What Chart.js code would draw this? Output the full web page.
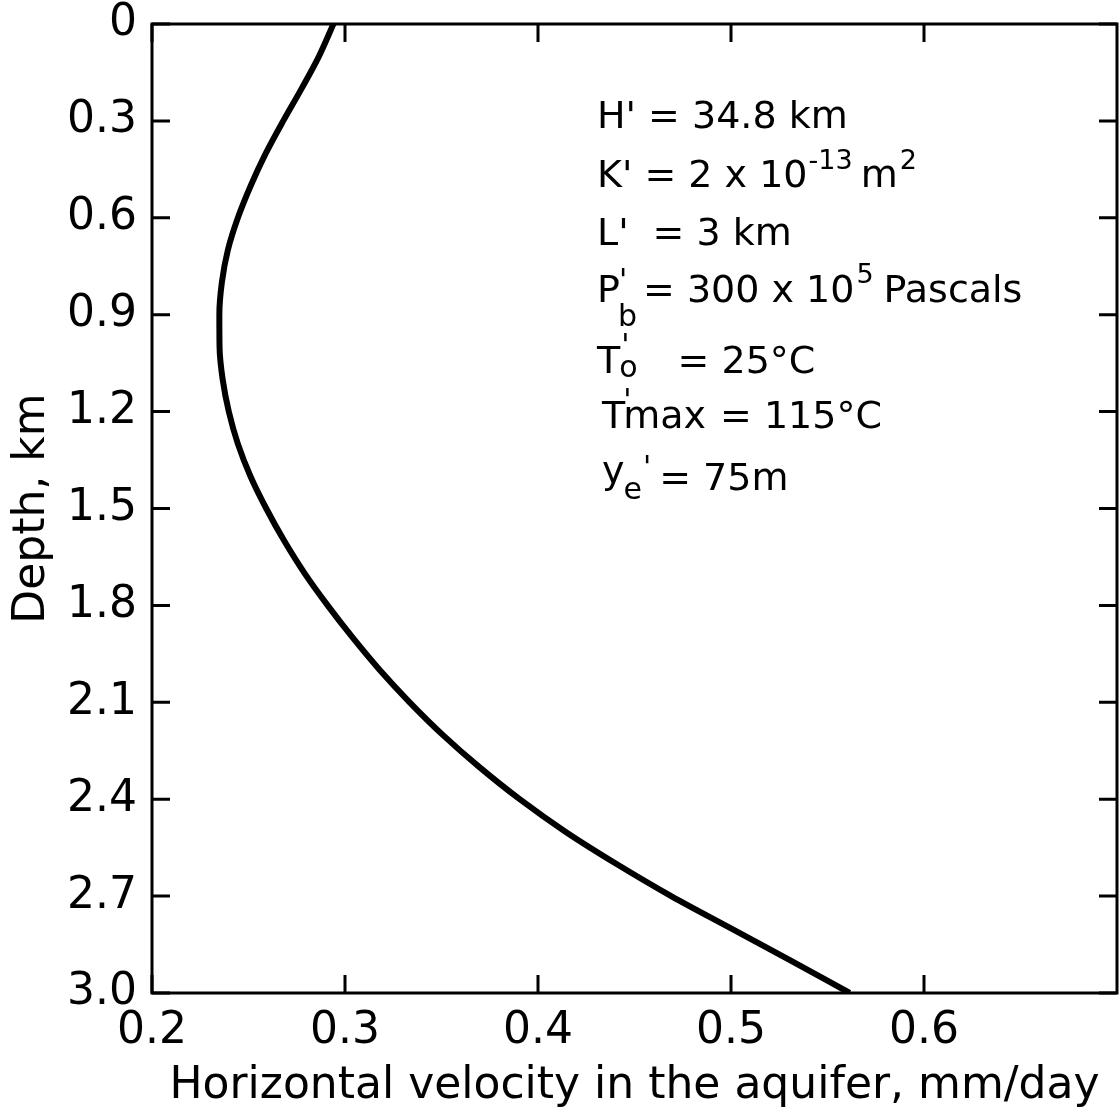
<!DOCTYPE html>
<html>
<head>
<meta charset="utf-8">
<script src="https://cdn.jsdelivr.net/npm/chart.js@4.4.1/dist/chart.umd.min.js"></script>
<style>
  html, body { margin: 0; padding: 0; background: #ffffff; }
  #wrap { width: 1120px; height: 1115px; position: relative; }
</style>
</head>
<body>
<div id="wrap"><canvas id="velocityChart"></canvas></div>
<script>
// depth below the top of the aquifer, km
const depthKm = [0, 0.1, 0.2, 0.3, 0.4, 0.5, 0.6, 0.7, 0.8, 0.9, 1.0,
    1.1, 1.2, 1.3, 1.4, 1.5, 1.6, 1.7, 1.8, 1.9, 2.0,
    2.1, 2.2, 2.3, 2.4, 2.5, 2.6, 2.7, 2.8, 2.9, 3.0];

// horizontal velocity, mm/day
const velocity = [0.294, 0.2865, 0.2775, 0.268, 0.259, 0.2512, 0.2445, 0.2393, 0.2362, 0.2349, 0.2350,
    0.2366, 0.2398, 0.2445, 0.2510, 0.2592, 0.2685, 0.2790, 0.2910, 0.3040, 0.3180,
    0.3335, 0.3505, 0.3695, 0.3905, 0.4140, 0.4405, 0.4690, 0.5000, 0.5310, 0.5615];

const xTicks = [0.2, 0.3, 0.4, 0.5, 0.6];
const yTicks = [0, 0.3, 0.6, 0.9, 1.2, 1.5, 1.8, 2.1, 2.4, 2.7, 3.0];

const FONT = "'DejaVu Sans', sans-serif";

const points = depthKm.map((d, i) => ({ x: velocity[i], y: d }));

// parameter block: each line = start x, baseline, segments
// segment = [text, size, dy, gapBefore, advance?]
const paramLines = [
    [597, 128, [["H' = 34.8 km", 38, 0, 0]]],
    [597, 187, [["K' = 2 x 10", 38, 0, 0], ["-13", 27, -18, 1], ["m", 38, 0, 8], ["2", 27, -18, 2]]],
    [597, 245, [["L'", 38, 0, 0], ["= 3 km", 38, 0, 24]]],
    [597, 302, [["P", 38, 0, 0], ["'", 30, -12, -1, false], ["b", 30, 24, -1], ["= 300 x 10", 38, 0, 6],
        ["5", 27, -19, 2], ["Pascals", 38, 0, 10]]],
    [597, 373, [["T", 38, 0, 0], ["'", 30, -18, 1, false], ["o", 30, 4, -2], ["= 25°C", 38, 0, 40]]],
    [602, 428, [["T", 38, 0, 0], ["'", 30, -18, -2, false], ["max", 38, 0, 0], ["= 115°C", 38, 0, 14]]],
    [602, 483, [["y", 38, 0, 0], ["e", 30, 16, -1], ["'", 30, -6, 1], ["= 75m", 38, 7, 8]]]
];

const frameAndTicks = {
    id: "frameAndTicks",
    afterDraw: (chart) => {
        const ctx = chart.ctx;
        const a = chart.chartArea;
        const xs = chart.scales.x;
        const ys = chart.scales.y;
        const len = 18;
        ctx.save();
        ctx.strokeStyle = "#000";
        ctx.lineWidth = 3;
        ctx.strokeRect(a.left, a.top, a.right - a.left, a.bottom - a.top);
        ctx.beginPath();
        xTicks.forEach(v => {
            const px = xs.getPixelForValue(v);
            ctx.moveTo(px, a.bottom); ctx.lineTo(px, a.bottom - len);
            ctx.moveTo(px, a.top); ctx.lineTo(px, a.top + len);
        });
        yTicks.forEach(v => {
            const py = ys.getPixelForValue(v);
            ctx.moveTo(a.left, py); ctx.lineTo(a.left + len, py);
            ctx.moveTo(a.right, py); ctx.lineTo(a.right - len, py);
        });
        ctx.stroke();

        ctx.fillStyle = "#000";
        ctx.textBaseline = "alphabetic";
        ctx.textAlign = "left";
        paramLines.forEach(line => {
            let x = line[0];
            line[2].forEach(seg => {
                ctx.font = seg[1] + "px " + FONT;
                x += seg[3];
                ctx.fillText(seg[0], x, line[1] + seg[2]);
                if (seg[4] !== false) x += ctx.measureText(seg[0]).width;
            });
        });
        ctx.restore();
    }
};

new Chart(document.getElementById("velocityChart"), {
    type: "scatter",
    data: {
        datasets: [{
            data: points,
            showLine: true,
            indexAxis: "y",
            borderColor: "#000",
            borderWidth: 6,
            pointRadius: 0,
            cubicInterpolationMode: "monotone",
            fill: false
        }]
    },
    options: {
        responsive: true,
        maintainAspectRatio: false,
        animation: false,
        layout: {
            padding: { top: 24, right: 3, left: 0, bottom: 0 }
        },
        plugins: {
            legend: { display: false },
            tooltip: { enabled: false }
        },
        scales: {
            x: {
                type: "linear",
                min: 0.2,
                max: 0.7,
                afterFit: (s) => { s.height = 122; s.paddingLeft = 0; s.paddingRight = 0; },
                afterBuildTicks: (s) => { s.ticks = xTicks.map(v => ({ value: v })); },
                grid: { display: false, drawTicks: false },
                border: { display: false },
                ticks: {
                    autoSkip: false,
                    maxRotation: 0,
                    padding: 12,
                    color: "#000",
                    font: { family: FONT, size: 44 },
                    callback: (v) => Number(v).toFixed(1)
                },
                title: {
                    display: true,
                    text: "Horizontal velocity in the aquifer, mm/day",
                    color: "#000",
                    font: { family: FONT, size: 44 },
                    padding: { top: 0, bottom: 2 }
                }
            },
            y: {
                type: "linear",
                reverse: true,
                min: 0,
                max: 3,
                afterFit: (s) => { s.width = 152; s.paddingTop = 0; s.paddingBottom = 0; },
                afterBuildTicks: (s) => { s.ticks = yTicks.map(v => ({ value: v })); },
                grid: { display: false, drawTicks: false },
                border: { display: false },
                ticks: {
                    autoSkip: false,
                    padding: 15,
                    color: "#000",
                    font: { family: FONT, size: 44 },
                    callback: (v) => v === 0 ? "0" : Number(v).toFixed(1)
                },
                title: {
                    display: true,
                    text: "Depth, km",
                    color: "#000",
                    font: { family: FONT, size: 44 },
                    padding: { top: 6, bottom: 0 }
                }
            }
        }
    },
    plugins: [frameAndTicks]
});
</script>
</body>
</html>
